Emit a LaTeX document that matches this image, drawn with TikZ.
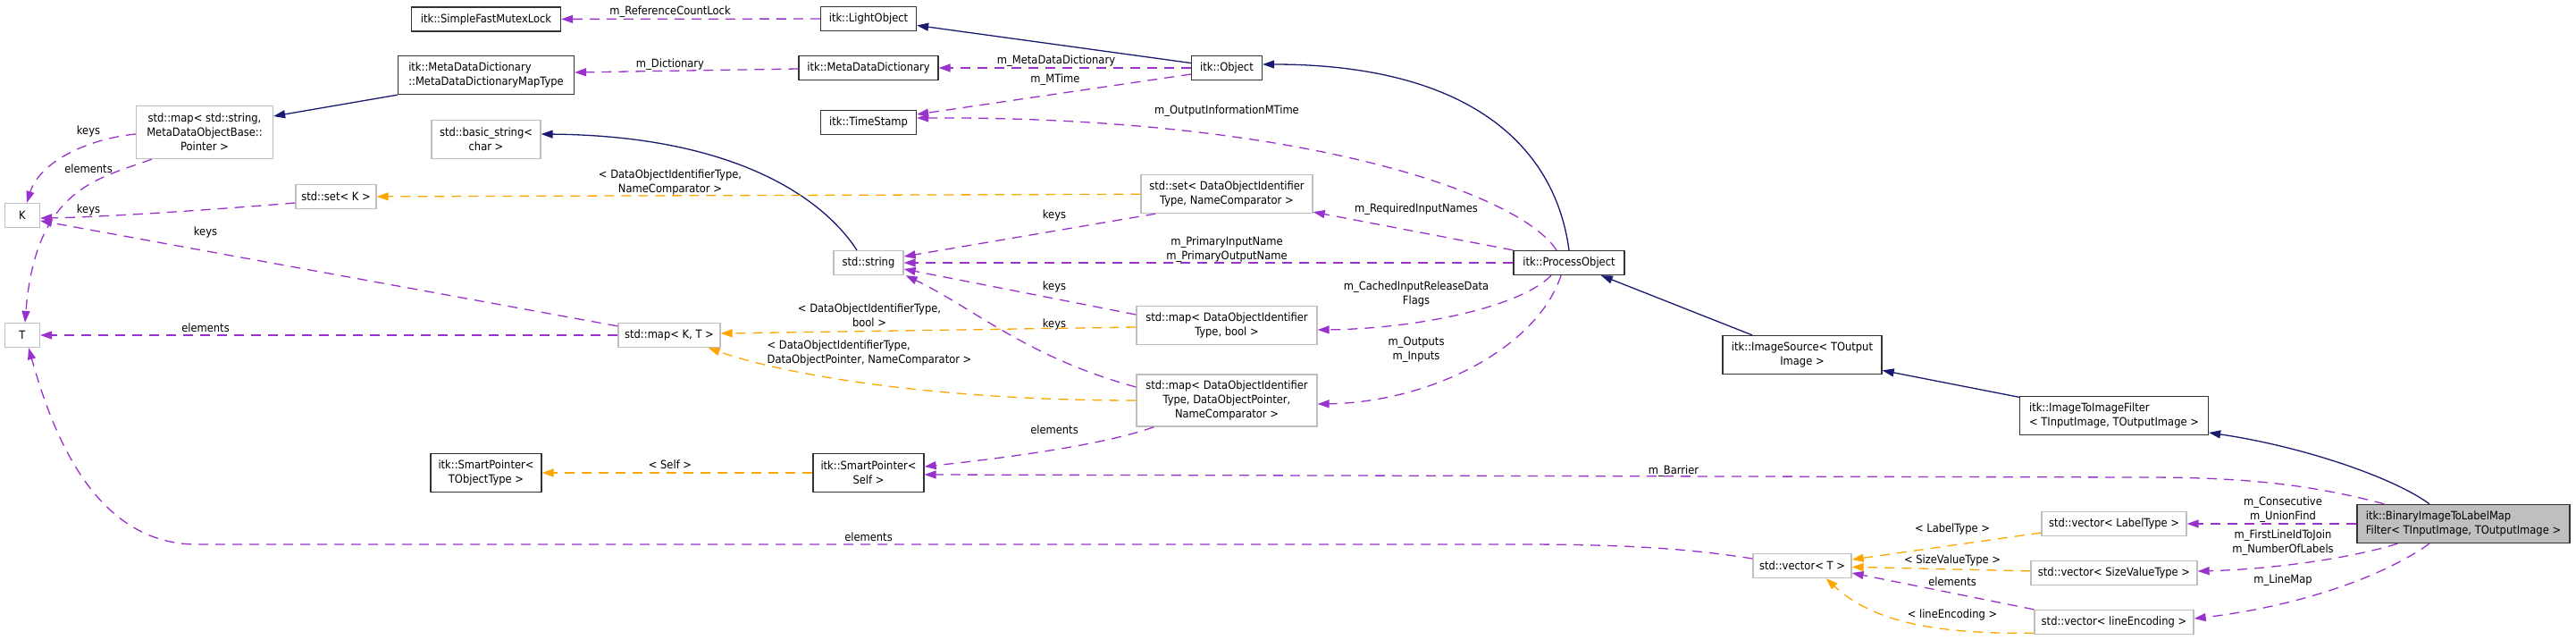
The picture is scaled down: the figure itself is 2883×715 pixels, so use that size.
\documentclass[tikz,border=0pt]{standalone}
\usepackage{fontspec}
\setmainfont{DejaVu Sans Condensed}
\usetikzlibrary{arrows.meta,calc}
\definecolor{inhblue}{RGB}{25,25,112}
\definecolor{usepurple}{RGB}{153,50,204}
\definecolor{tplorange}{RGB}{255,165,0}
\definecolor{extgray}{RGB}{191,191,191}

\begin{document}
\begin{tikzpicture}[x=1pt, y=-1pt, >={Triangle[length=13pt,width=9pt]},
		font=\fontsize{12.8}{16}\selectfont,
		cls/.style={draw=black!80, line width=1.3pt, fill=white, inner sep=0pt, align=center},
		ext/.style={draw=extgray, line width=1.3pt, fill=white, inner sep=0pt, align=center},
		lbl/.style={inner sep=0pt, align=center},
		inh/.style={->, draw=inhblue, line width=1.3pt},
		use/.style={->, draw=usepurple, line width=1.3pt, dash pattern=on 11pt off 8pt},
		tpl/.style={->, draw=tplorange, line width=1.3pt, dash pattern=on 11pt off 8pt}]
		\useasboundingbox (0,0) rectangle (2883,715);
		% classes
		\node[cls, minimum width=167, minimum height=27] (sfml) at (544,21.5) {itk::SimpleFastMutexLock};
		\node[cls, minimum width=107, minimum height=27] (light) at (972,21) {itk::LightObject};
		\node[cls, minimum width=197, minimum height=43, align=left] (mddmt) at (544,84) {itk::MetaDataDictionary\\::MetaDataDictionaryMapType};
		\node[cls, minimum width=156, minimum height=27] (mdd) at (972,76) {itk::MetaDataDictionary};
		\node[cls, minimum width=79, minimum height=27] (obj) at (1373,76) {itk::Object};
		\node[cls, minimum width=107, minimum height=27] (stamp) at (972,137) {itk::TimeStamp};
		\node[ext, minimum width=153, minimum height=59] (mapstr) at (229,148) {std::map< std::string,\\MetaDataObjectBase::\\Pointer >};
		\node[ext, minimum width=122, minimum height=43] (bstr) at (544,156) {std::basic\_string<\\char >};
		\node[ext, minimum width=90, minimum height=27] (setK) at (376,220) {std::set< K >};
		\node[ext, minimum width=39, minimum height=27] (K) at (25,241) {K};
		\node[ext, minimum width=192, minimum height=43] (setDOI) at (1373,217) {std::set< DataObjectIdentifier\\Type, NameComparator >};
		\node[ext, minimum width=78, minimum height=27] (str) at (972,294) {std::string};
		\node[cls, minimum width=124, minimum height=27] (proc) at (1756,294) {itk::ProcessObject};
		\node[ext, minimum width=202, minimum height=43] (mapDB) at (1373,364) {std::map< DataObjectIdentifier\\Type, bool >};
		\node[ext, minimum width=114, minimum height=27] (mapKT) at (749,375) {std::map< K, T >};
		\node[ext, minimum width=39, minimum height=27] (T) at (25,375) {T};
		\node[cls, minimum width=178, minimum height=43] (src) at (2017,397) {itk::ImageSource< TOutput\\Image >};
		\node[ext, minimum width=202, minimum height=58] (mapDP) at (1373,448) {std::map< DataObjectIdentifier\\Type, DataObjectPointer,\\NameComparator >};
		\node[cls, minimum width=211, minimum height=43, align=left] (i2i) at (2366,465) {itk::ImageToImageFilter\\< TInputImage, TOutputImage >};
		\node[cls, minimum width=124, minimum height=43] (spTO) at (544,529) {itk::SmartPointer<\\TObjectType >};
		\node[cls, minimum width=124, minimum height=43] (spS) at (972,529) {itk::SmartPointer<\\Self >};
		\node[cls, minimum width=238, minimum height=43, align=left, fill=extgray] (bin) at (2757,586) {itk::BinaryImageToLabelMap\\Filter< TInputImage, TOutputImage >};
		\node[ext, minimum width=162, minimum height=27] (vLT) at (2366,586) {std::vector< LabelType >};
		\node[ext, minimum width=110, minimum height=27] (vT) at (2017,633) {std::vector< T >};
		\node[ext, minimum width=186, minimum height=27] (vSV) at (2366,641) {std::vector< SizeValueType >};
		\node[ext, minimum width=178, minimum height=27] (vLE) at (2366,696) {std::vector< lineEncoding >};
		% inheritance
		\draw[inh] (obj) -- (light);
		\draw[inh] (proc.north) .. controls (1740,160) and (1640,72) .. ($(obj.east)+(0,-4)$);
		\draw[inh] (src) -- (proc);
		\draw[inh] (i2i) -- (src);
		\draw[inh] ($(bin.north)+(-38,0)$) .. controls (2680,535) and (2580,500) .. ($(i2i.east)+(0,19)$);
		\draw[inh] ($(str.north)+(-13,0)$) .. controls (920,220) and (820,152) .. ($(bstr.east)+(0,-6)$);
		\draw[inh] (mddmt.south west) -- ($(mapstr.east)+(0,-18)$);
		% members
		\draw[use] (light) -- (sfml);
		\node[lbl] (lRef) at (750,13) {m\_ReferenceCountLock};
		\draw[use] ($(mdd.west)+(0,1)$) -- ($(mddmt.east)+(0,-3)$);
		\node[lbl] (lDict) at (750,72) {m\_Dictionary};
		\draw[use] (obj) -- (mdd);
		\node[lbl] (lMdd) at (1182,68) {m\_MetaDataDictionary};
		\draw[use] ($(obj.west)+(0,7)$) -- ($(stamp.east)+(0,-9)$);
		\node[lbl] (lMT) at (1181,89) {m\_MTime};
		\draw[use] ($(proc.north)+(-14,0)$) .. controls (1700,215) and (1450,130) .. ($(stamp.east)+(0,-5)$);
		\node[lbl] (lOIM) at (1373,124) {m\_OutputInformationMTime};
		\draw[use] (proc.north west) -- ($(setDOI.south east)+(0,-2)$);
		\node[lbl] (lReq) at (1585,234) {m\_RequiredInputNames};
		\draw[use] (proc) -- (str);
		\node[lbl] (lPrim) at (1373,279) {m\_PrimaryInputName\\m\_PrimaryOutputName};
		\draw[use] ($(proc.south)+(-20,0)$) .. controls (1700,345) and (1580,368) .. ($(mapDB.east)+(0,5)$);
		\node[lbl] (lCache) at (1585,329) {m\_CachedInputReleaseData\\Flags};
		\draw[use] ($(proc.south)+(-9,0)$) .. controls (1720,390) and (1600,450) .. ($(mapDP.east)+(0,4)$);
		\node[lbl] (lIO) at (1585,391) {m\_Outputs\\m\_Inputs};
		\draw[use] ($(bin.north west)+(31,0)$) .. controls (2580,540) and (2500,534) .. (2400,534) -- ($(spS.east)+(0,2)$);
		\node[lbl] (lBar) at (1873,527) {m\_Barrier};
		\draw[use] (bin) -- (vLT);
		\node[lbl] (lCons) at (2555,570) {m\_Consecutive\\m\_UnionFind};
		\draw[use] ($(bin.south west)+(46,0)$) .. controls (2630,625) and (2540,637) .. ($(vSV.east)+(0,-2)$);
		\node[lbl] (lFirst) at (2555,607) {m\_FirstLineIdToJoin\\m\_NumberOfLabels};
		\draw[use] ($(bin.south)+(-38,0)$) .. controls (2660,650) and (2560,680) .. ($(vLE.east)+(0,-4)$);
		\node[lbl] (lLine) at (2555,649) {m\_LineMap};
		% keys and elements
		\draw[use] ($(setDOI.south west)+(17,0)$) -- ($(str.east)+(0,-7)$);
		\node[lbl] (lK1) at (1180,241) {keys};
		\draw[use] ($(mapDB.west)+(0,-12)$) -- ($(str.east)+(0,7)$);
		\node[lbl] (lK2) at (1180,321) {keys};
		\draw[use] ($(mapDP.west)+(0,-15)$) .. controls (1150,400) and (1090,345) .. ($(str.south east)+(2,0)$);
		\node[lbl] (lK3) at (1180,363) {keys};
		\draw[use] ($(mapDP.south west)+(20,0)$) .. controls (1230,500) and (1100,515) .. ($(spS.east)+(0,-7)$);
		\node[lbl] (lE1) at (1180,481) {elements};
		\draw[use] ($(setK.west)+(0,7)$) .. controls (220,236) and (110,243) .. ($(K.east)+(0,3)$);
		\node[lbl] (lK4) at (99,235) {keys};
		\draw[use] ($(mapstr.west)+(0,2)$) .. controls (100,155) and (45,180) .. ($(K.north)+(5,0)$);
		\node[lbl] (lK5) at (99,147) {keys};
		\draw[use] ($(mapstr.south west)+(18,0)$) .. controls (110,200) and (40,210) .. ($(T.north)+(3,0)$);
		\node[lbl] (lE2) at (99,189) {elements};
		\draw[use] ($(mapKT.north west)+(0,4)$) -- ($(K.east)+(0,6)$);
		\node[lbl] (lK6) at (230,260) {keys};
		\draw[use] (mapKT) -- (T);
		\node[lbl] (lE3) at (230,367) {elements};
		\draw[use] ($(vT.west)+(0,-8)$) .. controls (1880,612) and (1800,609) .. (1700,609) -- (220,609) .. controls (100,609) and (55,470) .. ($(T.south)+(7,0)$);
		\node[lbl] (lE4) at (972,601) {elements};
		\draw[use] (vLE.north west) -- ($(vT.east)+(0,8)$);
		\node[lbl] (lE5) at (2185,651) {elements};
		% template instances
		\draw[tpl] (setDOI) -- (setK);
		\node[lbl] (tSet) at (750,204) {< DataObjectIdentifierType,\\NameComparator >};
		\draw[tpl] ($(mapDB.west)+(0,2)$) -- ($(mapKT.east)+(0,-2)$);
		\node[lbl] (tMapB) at (973,353) {< DataObjectIdentifierType,\\bool >};
		\draw[tpl] (mapDP.west) .. controls (1050,448) and (880,420) .. ($(mapKT.south east)+(-14,0)$);
		\node[lbl, align=left] (tMapP) at (973,395) {< DataObjectIdentifierType,\\DataObjectPointer, NameComparator >};
		\draw[tpl] (spS) -- (spTO);
		\node[lbl] (tSelf) at (750,520) {< Self >};
		\draw[tpl] ($(vLT.west)+(0,10)$) -- ($(vT.east)+(0,-7)$);
		\node[lbl] (tLT) at (2185,592) {< LabelType >};
		\draw[tpl] (vSV) -- (vT);
		\node[lbl] (tSV) at (2185,627) {< SizeValueType >};
		\draw[tpl] ($(vLE.south west)+(0,-2)$) .. controls (2150,710) and (2090,690) .. ($(vT.south east)+(-29,0)$);
		\node[lbl] (tLE) at (2185,688) {< lineEncoding >};
	\end{tikzpicture}
\end{document}
